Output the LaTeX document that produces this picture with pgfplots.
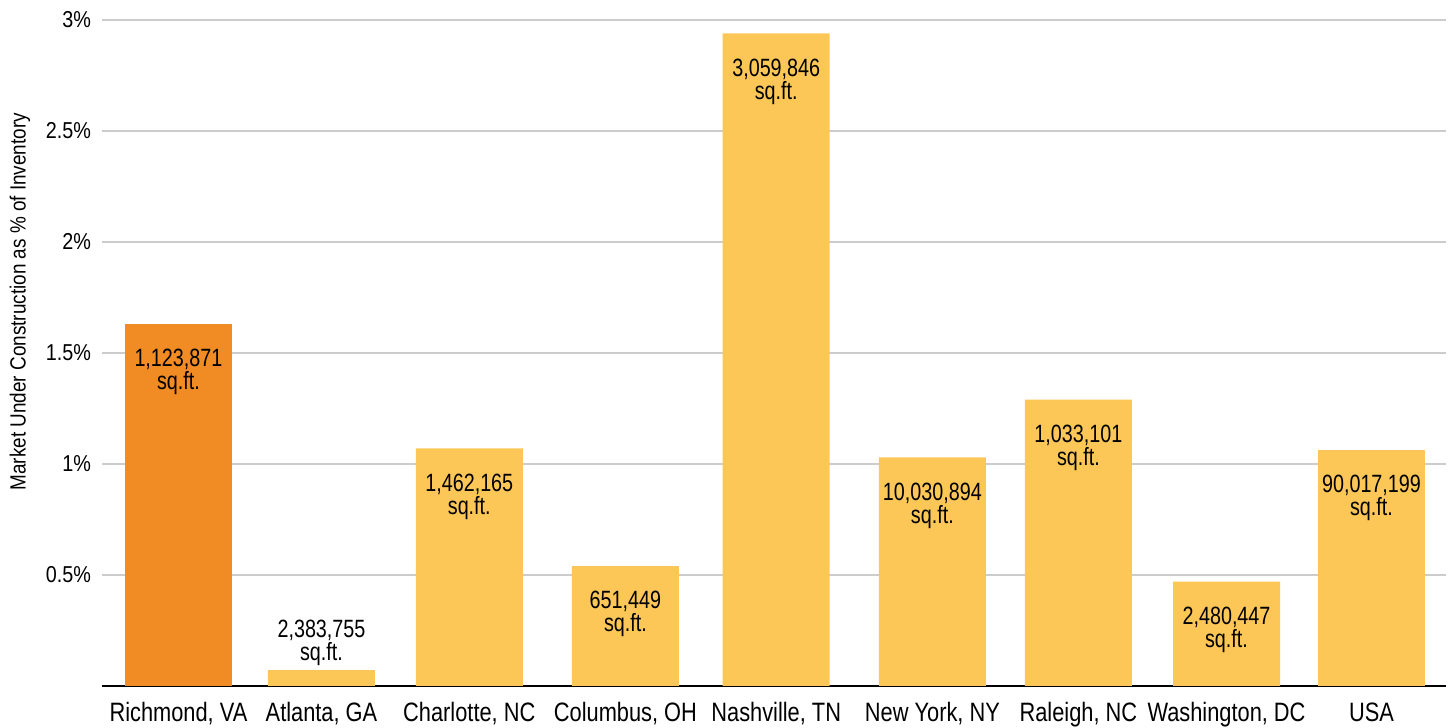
\documentclass[border=0pt]{standalone}
\usepackage{pgfplots}
\pgfplotsset{compat=1.18}
\usepackage{fontspec}
\setmainfont{Liberation Sans}[FakeStretch=0.86]
\newfontfamily\narrowfont{Liberation Sans}[FakeStretch=0.79]
\newfontfamily\catfont{Liberation Sans}[FakeStretch=0.82]
\definecolor{barorange}{HTML}{F08C23}
\definecolor{baryellow}{HTML}{FCC757}
\definecolor{gridgray}{HTML}{CCCCCC}
\begin{document}
\begin{tikzpicture}
\begin{axis}[
  name=ax,
  scale only axis,
  width=672pt, height=333pt,
  xmin=-0.513, xmax=8.507,
  ymin=0, ymax=3,
  ybar, bar shift=0pt, bar width=0.718,
  axis x line*=bottom, axis y line*=left,
  x axis line style={black, line width=1.3pt},
  y axis line style={draw=none},
  xtick={0,0.960,1.952,3.000,4.012,5.060,6.040,7.034,8.007},
  xticklabels={{Richmond, VA},{Atlanta, GA},{Charlotte, NC},{Columbus, OH},{Nashville, TN},{New York, NY},{Raleigh, NC},{Washington, DC},{USA}},
  xtick style={draw=none},
  ytick={0.5,1,1.5,2,2.5,3},
  ytick style={draw=none},
  ymajorgrids,
  major grid style={gridgray, line width=1pt},
  /pgf/number format/assume math mode=true,
  yticklabel={\pgfmathprintnumber{\tick}\%},
  yticklabel style={font=\fontsize{11.5}{13}\selectfont, xshift=-2pt},
  xticklabel style={font=\catfont\fontsize{13.3}{15}\selectfont, yshift=-0.5pt},
  ylabel={Market Under Construction as \% of Inventory},
  ylabel style={font=\fontsize{11}{12}\selectfont, at={(axis description cs:0,0.577)}, anchor=center, yshift=41pt},
  clip=false,
]
\addplot[fill=barorange, draw=none] coordinates {(0,1.63)};
\addplot[fill=baryellow, draw=none] coordinates {
  (0.960,0.072) (1.952,1.07) (3.000,0.54) (4.012,2.94)
  (5.060,1.03) (6.040,1.29) (7.034,0.47) (8.007,1.063)};
\begin{scope}[every node/.style={align=center, inner sep=0pt, anchor=north, font=\narrowfont\fontsize{12.5}{11.5}\selectfont}]
\node[yshift=-12.5pt] at (axis cs:0,1.63) {1,123,871\\sq.ft.};
\node[yshift=25pt] at (axis cs:0.960,0.072) {2,383,755\\sq.ft.};
\node[yshift=-12.5pt] at (axis cs:1.952,1.07) {1,462,165\\sq.ft.};
\node[yshift=-12.5pt] at (axis cs:3.000,0.54) {651,449\\sq.ft.};
\node[yshift=-12.5pt] at (axis cs:4.012,2.94) {3,059,846\\sq.ft.};
\node[yshift=-12.5pt] at (axis cs:5.060,1.03) {10,030,894\\sq.ft.};
\node[yshift=-12.5pt] at (axis cs:6.040,1.29) {1,033,101\\sq.ft.};
\node[yshift=-12.5pt] at (axis cs:7.034,0.47) {2,480,447\\sq.ft.};
\node[yshift=-12.5pt] at (axis cs:8.007,1.063) {90,017,199\\sq.ft.};
\end{scope}
\end{axis}
\pgfresetboundingbox
\path[use as bounding box] (ax.south west) ++(-51pt,-21pt) rectangle ++(726pt,364pt);
\end{tikzpicture}
\end{document}
